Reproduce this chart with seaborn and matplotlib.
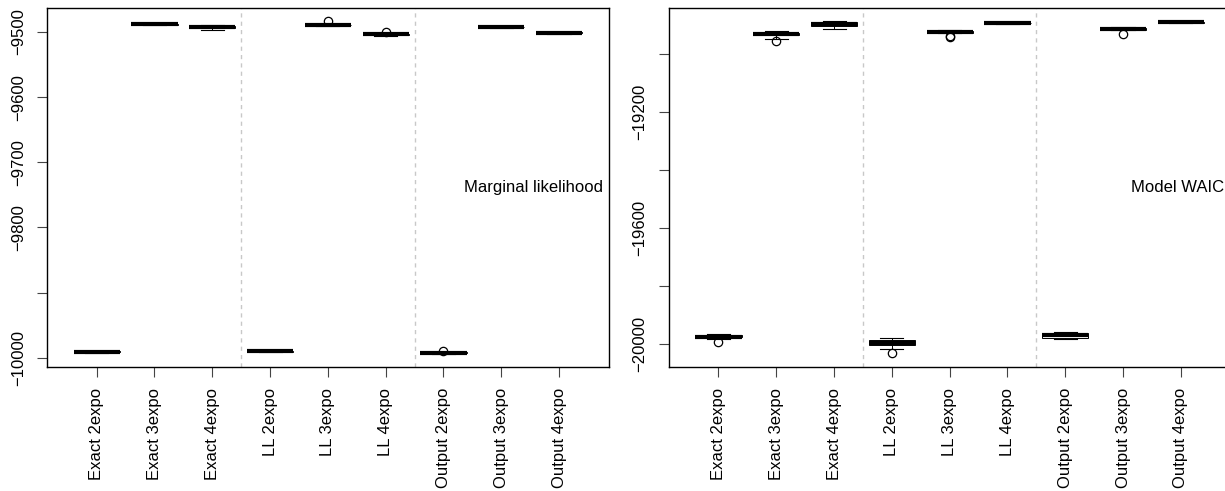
import matplotlib
matplotlib.use("Agg")
import matplotlib.pyplot as plt
import seaborn as sns
import pandas as pd
from matplotlib.transforms import blended_transform_factory

plt.rcParams["font.family"] = ["Liberation Sans", "DejaVu Sans"]

groups = ["Exact 2expo", "Exact 3expo", "Exact 4expo",
          "LL 2expo", "LL 3expo", "LL 4expo",
          "Output 2expo", "Output 3expo", "Output 4expo"]

# ---- Marginal likelihood (left panel) ----
ml_exact2 = [-9993, -9992.5, -9992, -9991.6, -9991.3, -9991, -9990.5, -9990.2, -9989.5]
ml_exact3 = [-9489.5, -9489, -9488.6, -9488.2, -9487.7, -9487.3, -9487, -9486.6, -9486.2]
ml_exact4 = [-9496.9, -9495, -9494, -9493, -9492.3, -9491.8, -9491, -9490.5, -9489.8]
ml_ll2 = [-9991.5, -9991, -9990.6, -9990.2, -9989.8, -9989.4, -9989, -9988.6, -9988.2]
ml_ll3 = [-9491, -9490.5, -9490, -9489.7, -9489.3, -9489, -9488.6, -9488, -9483.1]
ml_ll4 = [-9505.5, -9505, -9504.5, -9504, -9503.6, -9503.2, -9502.8, -9502.4, -9499.8]
ml_out2 = [-9994, -9993.5, -9993, -9992.6, -9992.3, -9992, -9991.7, -9991.3, -9989.3]
ml_out3 = [-9494, -9493.5, -9493, -9492.6, -9492.3, -9492, -9491.6, -9491.2, -9490.6]
ml_out4 = [-9503.2, -9502.7, -9502.3, -9501.9, -9501.5, -9501.1, -9500.7, -9500.3, -9499.8]

# ---- Model WAIC (right panel) ----
w_exact2 = [-19990.8, -19982.8, -19976, -19975, -19973.6, -19971, -19968, -19966, -19964]
w_exact3 = [-18954, -18946, -18935, -18933, -18931.1, -18929, -18926, -18924, -18921]
w_exact4 = [-18911.6, -18906, -18902.4, -18899, -18896.7, -18893, -18888.6, -18886, -18884]
w_ll2 = [-20031, -20015, -20002, -19998, -19994.3, -19990, -19986, -19982, -19978.2]
w_ll3 = [-18939, -18936, -18925, -18923, -18921.9, -18920.5, -18919, -18917.5, -18916]
w_ll4 = [-18895, -18894, -18893.2, -18892.6, -18892, -18891.4, -18890.8, -18890, -18889]
w_out2 = [-19983, -19981, -19978, -19973, -19969, -19965, -19961, -19959, -19957]
w_out3 = [-18928.8, -18917, -18915, -18913, -18911.6, -18910, -18908, -18907, -18905.5]
w_out4 = [-18892, -18891.3, -18890.8, -18890.3, -18889.8, -18889.3, -18888.8, -18888.3, -18887.6]

ml_lists = [ml_exact2, ml_exact3, ml_exact4, ml_ll2, ml_ll3, ml_ll4, ml_out2, ml_out3, ml_out4]
w_lists = [w_exact2, w_exact3, w_exact4, w_ll2, w_ll3, w_ll4, w_out2, w_out3, w_out4]

ml_yticks = [-10000, -9900, -9800, -9700, -9600, -9500]
ml_yticklabels = ["\u221210000", "", "\u22129800", "\u22129700", "\u22129600", "\u22129500"]
w_yticks = [-20000, -19800, -19600, -19400, -19200, -19000]
w_yticklabels = ["\u221220000", "", "\u221219600", "", "\u221219200", ""]


def long_df(lists):
    rows = []
    for g, vals in zip(groups, lists):
        for v in vals:
            rows.append({"group": g, "value": v})
    return pd.DataFrame(rows)


fig = plt.figure(figsize=(12.25, 4.91), dpi=100)
W, H = 1225.0, 491.0
bottom = 1 - 367 / H
height = 359 / H
ax1 = fig.add_axes([47 / W, bottom, 561.7 / W, height])
ax2 = fig.add_axes([668.8 / W, bottom, 561.7 / W, height])

panels = [
    (ax1, long_df(ml_lists), (-10014.3, -9463.2), ml_yticks, ml_yticklabels,
     "Marginal likelihood", -9739),
    (ax2, long_df(w_lists), (-20078, -18840.4), w_yticks, w_yticklabels,
     "Model WAIC", -19460),
]

for ax, df, ylim, yt, ytl, label, label_y in panels:
    for xsep in (2.5, 5.5):
        ax.axvline(xsep, color="#c8c8c8", linestyle=(0, (3, 3)), linewidth=1, zorder=0)
    sns.boxplot(
        data=df, x="group", y="value", order=groups, ax=ax,
        width=0.8, color="white", linecolor="black", linewidth=0.7, whis=1.5,
        fliersize=6,
        medianprops=dict(linewidth=3, color="black", solid_capstyle="butt"),
        whiskerprops=dict(linestyle="--", linewidth=0.7),
        capprops=dict(linewidth=0.8),
        flierprops=dict(marker="o", markerfacecolor="none",
                        markeredgecolor="black", markeredgewidth=0.9),
    )
    ax.set_xlim(-0.86, 8.86)
    ax.set_ylim(*ylim)
    ax.set_yticks(yt)
    ax.set_yticklabels(ytl, rotation=90, va="center")
    ax.set_xticks(range(len(groups)))
    ax.set_xticklabels(groups, rotation=90, ha="center", va="top")
    ax.set_xlabel("")
    ax.set_ylabel("")
    ax.tick_params(axis="both", length=7.2, width=0.8, color="#444444",
                   labelsize=12, pad=8)
    for sp in ax.spines.values():
        sp.set_visible(True)
        sp.set_color("black")
        sp.set_linewidth(1)
    tr = blended_transform_factory(ax.transAxes, ax.transData)
    ax.text(1 - 6 / 561.7, label_y, label, transform=tr, ha="right", va="center",
            fontsize=12)

fig.savefig("out.png", dpi=100)
